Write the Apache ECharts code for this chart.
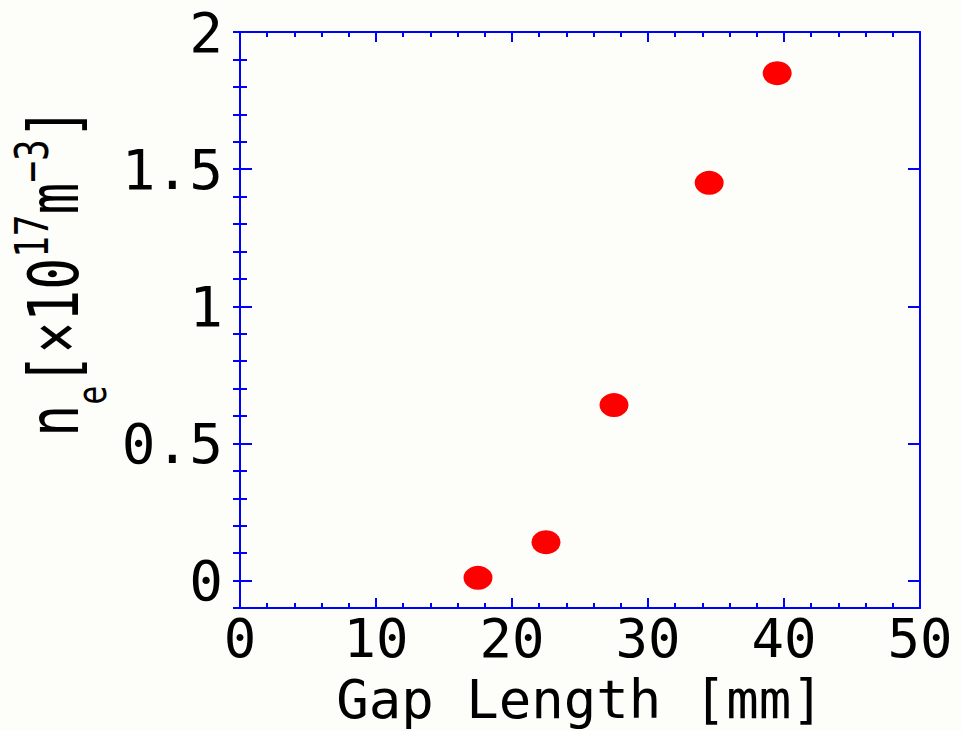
<!DOCTYPE html>
<html>
<head>
<meta charset="utf-8">
<script src="https://cdn.jsdelivr.net/npm/echarts@6/dist/echarts.min.js"></script>
<style>
html,body{margin:0;padding:0;background:#fdfdf9;}
#c{width:962px;height:731px;}
</style>
</head>
<body>
<div id="c"></div>
<script>
// Data
const gapLength = [17.5, 22.5, 27.5, 34.5, 39.5];
const density = [0.01, 0.14, 0.64, 1.45, 1.85];
const yMajorTicks = [0, 0.5, 1, 1.5, 2];
const xTitle = 'Gap Length [mm]';

const chart = echarts.init(document.getElementById('c'), null, {renderer: 'svg'});
const blue = '#0000ff';
const FONT = 'DejaVu Sans Mono';

function xAx(pos, labels) {
  return {
    type: 'value', position: pos, min: 0, max: 50, interval: 10,
    axisLine: {show: true, onZero: false, lineStyle: {color: blue, width: 2}},
    axisTick: {show: true, inside: true, length: 10, lineStyle: {color: blue, width: 2}},
    minorTick: {show: true, splitNumber: 5, length: 5, lineStyle: {color: blue, width: 2}},
    splitLine: {show: false},
    axisLabel: {show: labels, margin: 7, fontFamily: FONT, fontSize: 54, lineHeight: 46, color: '#000'},
    name: labels ? xTitle : '',
    nameLocation: 'middle', nameGap: 68, nameMoveOverlap: false,
    nameTextStyle: {fontFamily: FONT, fontWeight: 'normal', fontSize: 54, lineHeight: 46, color: '#000'}
  };
}
function yMajor(pos, labels) {
  return {
    type: 'value', position: pos, min: -0.1, max: 2, interval: 0.1,
    axisLine: {show: true, onZero: false, lineStyle: {color: blue, width: 2}},
    axisTick: {show: true, inside: true, length: 12, customValues: yMajorTicks, lineStyle: {color: blue, width: 2}},
    splitLine: {show: false},
    axisLabel: {show: labels, margin: 17, customValues: yMajorTicks, fontFamily: FONT, fontSize: 56, lineHeight: 46, color: '#000'}
  };
}
function yMinor(pos) {
  return {
    type: 'value', position: pos, offset: 0, min: -0.1, max: 2, interval: 0.1,
    axisLine: {show: false},
    axisTick: {show: true, inside: true, length: 7, lineStyle: {color: blue, width: 2}},
    splitLine: {show: false},
    axisLabel: {show: false}
  };
}

chart.setOption({
  backgroundColor: '#fdfdf9',
  animation: false,
  grid: {left: 240, right: 42, top: 32, bottom: 123, containLabel: false, outerBoundsMode: 'none'},
  xAxis: [xAx('bottom', true), xAx('top', false)],
  yAxis: [yMajor('left', true), yMajor('right', false), yMinor('left'), yMinor('right')],
  series: [{
    type: 'scatter',
    xAxisIndex: 0, yAxisIndex: 0,
    data: gapLength.map((x, i) => [x, density[i]]),
    symbol: 'circle', symbolSize: [29, 24],
    itemStyle: {color: '#ff0000', opacity: 1}
  }],
  graphic: [{
    type: 'text',
    x: 54, y: 272,
    rotation: Math.PI / 2,
    scaleY: 1.3,
    style: {
      text: '{m|n}{sub|e}{m|[×10}{sup|17}{m|m}{sup|−3}{m|]}',
      align: 'center', verticalAlign: 'middle',
      rich: {
        m: {fontFamily: FONT, fontWeight: 'normal', fontSize: 53, lineHeight: 90, verticalAlign: 'middle', fill: '#000'},
        sub: {fontFamily: FONT, fontWeight: 'normal', fontSize: 32, lineHeight: 32, verticalAlign: 'bottom', fill: '#000'},
        sup: {fontFamily: FONT, fontWeight: 'normal', fontSize: 36, lineHeight: 36, verticalAlign: 'top', padding: [10, 0, 0, 0], fill: '#000'}
      }
    }
  }]
});
</script>
</body>
</html>
